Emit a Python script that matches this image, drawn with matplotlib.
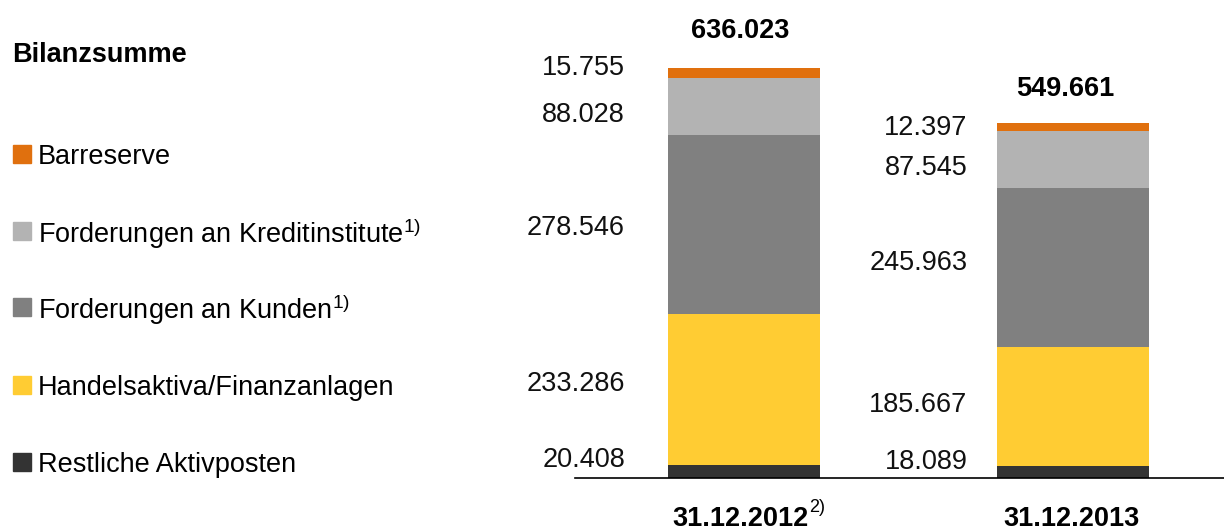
import matplotlib
matplotlib.use("Agg")
import matplotlib.pyplot as plt
from matplotlib.patches import Rectangle

plt.rcParams['font.family'] = ['Liberation Sans', 'DejaVu Sans']
plt.rcParams['mathtext.default'] = 'regular'

# data (Mio EUR)
dates = ['31.12.2012', '31.12.2013']
date_notes = ['2)', '']
series = ['Restliche Aktivposten', 'Handelsaktiva/Finanzanlagen',
          'Forderungen an Kunden$^{1)}$', 'Forderungen an Kreditinstitute$^{1)}$',
          'Barreserve']
restliche = [20.408, 18.089]
handel = [233.286, 185.667]
kunden = [278.546, 245.963]
kredit = [88.028, 87.545]
barreserve = [15.755, 12.397]
totals = [636.023, 549.661]

colors = ['#333333', '#FFCC33', '#808080', '#B3B3B3', '#E0700E']
values = [restliche, handel, kunden, kredit, barreserve]

# label nudges in pixels (to keep small labels from overlapping)
nudge = [[11, 10], [6, 1], [-3, 4], [-9, -8], [5, -1]]

W, H = 1224, 531
fig = plt.figure(figsize=(W / 100, H / 100), dpi=100)
ax = fig.add_axes([575 / W, 53 / H, (W - 575) / W, 478 / H])

x = [0, 1]
width = 0.46
bottom = [0.0, 0.0]
for vals, col, nd in zip(values, colors, nudge):
    ax.bar(x, vals, width, bottom=bottom, color=col)
    for i in range(2):
        mid = bottom[i] + vals[i] / 2
        gap = 0.132 if i == 0 else 0.091
        ax.annotate(f'{vals[i]:.3f}', (x[i] - width / 2 - gap, mid),
                    xytext=(0, nd[i]), textcoords='offset pixels',
                    ha='right', va='center', fontsize=19.5, color='#111111')
    bottom = [b + v for b, v in zip(bottom, vals)]

for i in range(2):
    ax.annotate(f'{totals[i]:.3f}', (x[i], totals[i]), xytext=([-4, -8][i], [37, 34][i]),
                textcoords='offset pixels', ha='center', va='center',
                fontsize=19.5, fontweight='bold')
    ax.annotate(dates[i], (x[i], 0), xytext=([-4, -2][i], -41),
                textcoords='offset pixels', ha='center', va='center',
                fontsize=19.5, fontweight='bold')
    if date_notes[i]:
        ax.annotate(date_notes[i], (x[i], 0), xytext=(65, -30),
                    textcoords='offset pixels', ha='left', va='center',
                    fontsize=13)

ax.set_xlim(-0.514, 1.459)
ax.set_ylim(0, 741)
for s in ['top', 'right', 'left']:
    ax.spines[s].set_visible(False)
ax.spines['bottom'].set_linewidth(1.2)
ax.set_xticks([])
ax.set_yticks([])

# legend on the left
fig.text(12 / W, 1 - 55 / H, 'Bilanzsumme', fontsize=19.5, fontweight='bold',
         ha='left', va='center')
leg_y = [462, 385, 307, 231, 154]
for name, col, yy in zip(series, colors, leg_y):
    fig.patches.append(Rectangle((13 / W, 1 - (yy + 9) / H), 18 / W, 18 / H,
                                 transform=fig.transFigure, color=col))
    fig.text(38 / W, 1 - (yy + 3) / H, name, fontsize=19.5, ha='left', va='center')

fig.savefig('out.png', dpi=100)
